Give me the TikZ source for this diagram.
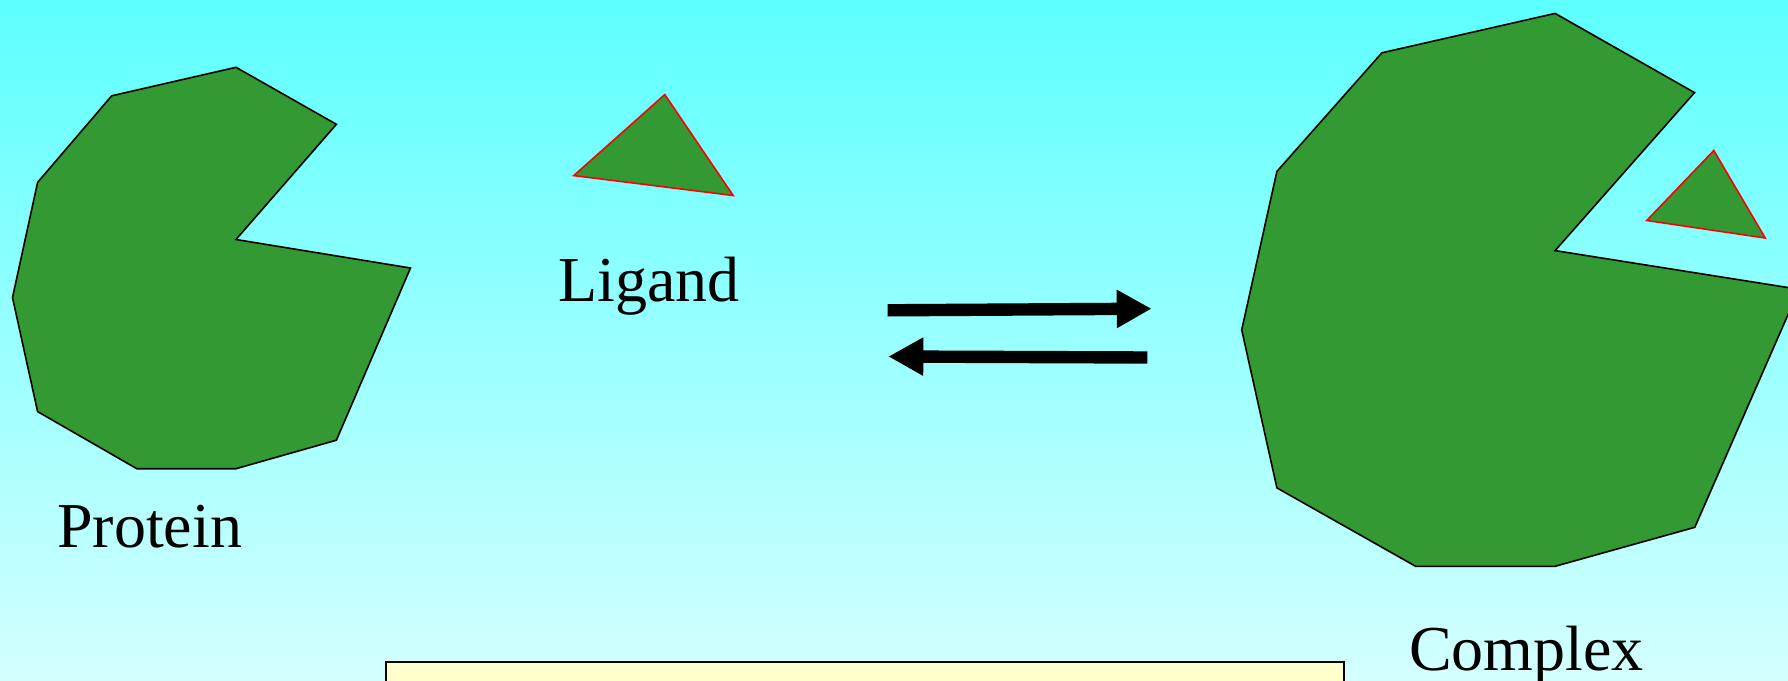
\documentclass[tikz,border=0pt]{standalone}
\usepackage{fontspec}
\setmainfont{Liberation Serif}
\usetikzlibrary{arrows.meta}
\definecolor{bgtop}{RGB}{93,255,255}
\definecolor{bgbot}{RGB}{212,255,255}
\definecolor{molgreen}{RGB}{51,153,51}
\definecolor{notebox}{RGB}{255,255,204}
\tikzset{
  protein/.style={fill=molgreen, draw=black, line width=1.6pt, line join=miter},
  ligand/.style={fill=molgreen, draw=red, line width=1.6pt, line join=miter},
  label/.style={font=\fontsize{64}{76}\selectfont, inner sep=0pt, anchor=base west},
  rxn/.style={line width=12.4pt, -{Triangle[length=35pt,width=36pt]}},
}
\begin{document}
\begin{tikzpicture}[x=1pt,y=-1pt]
\useasboundingbox (0,0) rectangle (1788,680);
\clip (0,0) rectangle (1788,680);
\shade[top color=bgtop, bottom color=bgbot] (0,0) rectangle (1788,680);

% Protein
\draw[protein] (236.0,67.3) -- (336.4,124.3) -- (236.0,239.5) -- (410.5,268.0)
  -- (336.4,440.2) -- (236.0,468.7) -- (136.8,468.7) -- (37.6,411.6)
  -- (12.5,297.6) -- (37.6,182.4) -- (111.7,95.8) -- cycle;
\node[label] (protein) at (57,547) {Protein};

% Ligand
\draw[ligand] (664.8,94.6) -- (733.2,195.5) -- (573.8,175.6) -- cycle;
\node[label] (ligand) at (558,301) {Ligand};

% Equilibrium arrows
\coordinate (fwdA) at (887.7,310.3);
\coordinate (fwdB) at (1151.7,308.7);
\coordinate (revA) at (1147.3,357.5);
\coordinate (revB) at (888.3,356.5);
\draw[rxn] (fwdA) -- (fwdB);
\draw[rxn] (revA) -- (revB);

% Complex
\draw[protein] (1555.1,13.4) -- (1694.5,92.6) -- (1555.1,250.6) -- (1799.1,289.3)
  -- (1694.8,527.3) -- (1555.1,566.3) -- (1415.6,566.3) -- (1276.9,487.9)
  -- (1241.7,329.9) -- (1276.9,171.4) -- (1381.9,52.8) -- cycle;
\draw[ligand] (1713.8,150.5) -- (1765.2,238.0) -- (1646.7,220.5) -- cycle;
\node[label] (complex) at (1409,670.5) {Complex};

% Note box
\draw[fill=notebox, draw=black, line width=2pt] (385.7,661.7) rectangle (1344.3,700);
\end{tikzpicture}
\end{document}
